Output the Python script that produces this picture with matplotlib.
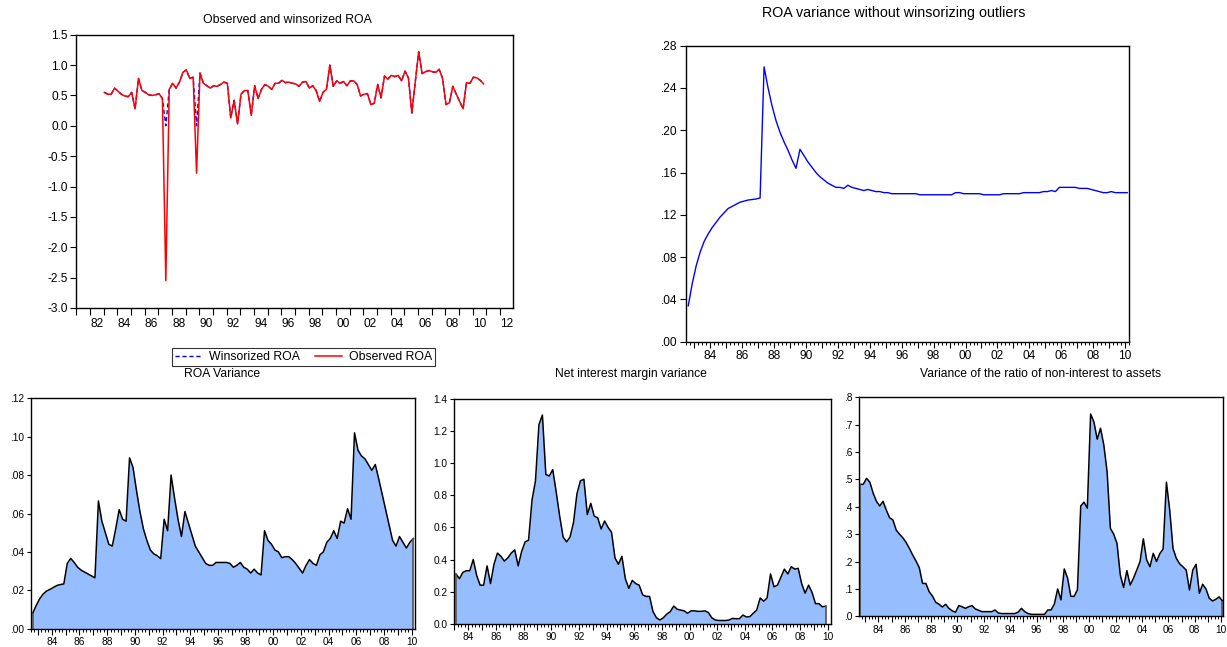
import numpy as np
import pandas as pd
import matplotlib
matplotlib.use("Agg")
import matplotlib.pyplot as plt
from matplotlib.lines import Line2D

plt.rcParams['font.family'] = ['Liberation Sans', 'DejaVu Sans']

# ---------------- data ----------------
roa_start = '1982Q4'
roa_observed = [0.55, 0.52, 0.52, 0.62, 0.57, 0.52, 0.49, 0.48, 0.55, 0.28,
                0.78, 0.58, 0.55, 0.51, 0.50, 0.51, 0.53, 0.45, -2.55, 0.60,
                0.70, 0.62, 0.72, 0.88, 0.92, 0.78, 0.80, -0.78, 0.87, 0.70,
                0.66, 0.62, 0.66, 0.65, 0.68, 0.72, 0.70, 0.13, 0.42, 0.03,
                0.52, 0.58, 0.58, 0.17, 0.66, 0.45, 0.60, 0.68, 0.65, 0.60,
                0.70, 0.70, 0.75, 0.71, 0.72, 0.70, 0.69, 0.65, 0.72, 0.73,
                0.62, 0.66, 0.58, 0.40, 0.55, 0.60, 1.00, 0.65, 0.74, 0.70,
                0.73, 0.66, 0.74, 0.74, 0.68, 0.49, 0.52, 0.53, 0.35, 0.37,
                0.68, 0.46, 0.82, 0.77, 0.83, 0.81, 0.83, 0.74, 0.90, 0.79,
                0.21, 0.72, 1.22, 0.86, 0.89, 0.91, 0.89, 0.88, 0.93, 0.78,
                0.35, 0.38, 0.65, 0.52, 0.40, 0.28, 0.71, 0.70, 0.80, 0.79,
                0.75, 0.69]
roa_winsorized = list(roa_observed)
roa_winsorized[18] = 0.0
roa_winsorized[27] = 0.0

var_start = '1982Q4'
roa_var_raw = [0.034, 0.055, 0.072, 0.085, 0.095, 0.102, 0.108, 0.113, 0.118, 0.122,
               0.126, 0.128, 0.130, 0.132, 0.133, 0.134, 0.1345, 0.135, 0.136, 0.260,
               0.240, 0.223, 0.209, 0.198, 0.189, 0.181, 0.172, 0.164, 0.182, 0.176,
               0.170, 0.165, 0.160, 0.156, 0.153, 0.150, 0.148, 0.146, 0.146, 0.145,
               0.148, 0.146, 0.145, 0.144, 0.143, 0.144, 0.143, 0.142, 0.142, 0.141,
               0.141, 0.140, 0.140, 0.140, 0.140, 0.140, 0.140, 0.140, 0.139, 0.139,
               0.139, 0.139, 0.139, 0.139, 0.139, 0.139, 0.139, 0.141, 0.141, 0.140,
               0.140, 0.140, 0.140, 0.140, 0.139, 0.139, 0.139, 0.139, 0.139, 0.140,
               0.140, 0.140, 0.140, 0.140, 0.141, 0.141, 0.141, 0.141, 0.141, 0.142,
               0.142, 0.143, 0.142, 0.146, 0.146, 0.146, 0.146, 0.146, 0.145, 0.145,
               0.145, 0.144, 0.143, 0.142, 0.141, 0.141, 0.142, 0.141, 0.141, 0.141,
               0.141]

roa_var = [0.008, 0.012, 0.0155, 0.018, 0.0196, 0.0205, 0.0215, 0.0225, 0.023, 0.0233,
           0.034, 0.0366, 0.0345, 0.032, 0.0305, 0.0295, 0.0285, 0.0275, 0.0265, 0.0665,
           0.056, 0.050, 0.044, 0.043, 0.052, 0.062, 0.057, 0.056, 0.089, 0.084,
           0.072, 0.061, 0.052, 0.046, 0.041, 0.039, 0.038, 0.0365, 0.057, 0.051,
           0.080, 0.068, 0.057, 0.048, 0.061, 0.055, 0.049, 0.043, 0.040, 0.037,
           0.034, 0.033, 0.033, 0.0345, 0.0345, 0.0345, 0.0345, 0.034, 0.032, 0.033,
           0.0345, 0.032, 0.031, 0.029, 0.031, 0.029, 0.028, 0.051, 0.046, 0.044,
           0.041, 0.040, 0.037, 0.0375, 0.0375, 0.036, 0.034, 0.0315, 0.029, 0.033,
           0.036, 0.034, 0.033, 0.0385, 0.040, 0.045, 0.047, 0.051, 0.047, 0.056,
           0.055, 0.0625, 0.057, 0.102, 0.093, 0.090, 0.0885, 0.0855, 0.0825, 0.0855,
           0.078, 0.070, 0.062, 0.054, 0.046, 0.043, 0.048, 0.045, 0.042, 0.045,
           0.047]

nim_start = '1983Q2'
nim_var = [0.31, 0.28, 0.32, 0.33, 0.33, 0.40, 0.30, 0.24, 0.24, 0.36,
           0.25, 0.37, 0.44, 0.42, 0.39, 0.41, 0.44, 0.46, 0.36, 0.45,
           0.51, 0.52, 0.77, 0.89, 1.24, 1.30, 0.93, 0.92, 0.96, 0.82,
           0.67, 0.54, 0.51, 0.54, 0.63, 0.81, 0.89, 0.90, 0.68, 0.75,
           0.67, 0.66, 0.59, 0.64, 0.60, 0.57, 0.41, 0.37, 0.42, 0.28,
           0.22, 0.27, 0.25, 0.24, 0.18, 0.17, 0.17,
           0.075, 0.037, 0.023, 0.037, 0.06, 0.075, 0.11, 0.09, 0.085,
           0.08, 0.065, 0.08, 0.08, 0.077, 0.077, 0.08, 0.07, 0.037, 0.023,
           0.02, 0.02, 0.02, 0.023, 0.033, 0.031, 0.031, 0.054,
           0.042, 0.044, 0.065, 0.085, 0.16, 0.14, 0.16, 0.31, 0.23, 0.24,
           0.29, 0.34, 0.31, 0.355, 0.34, 0.345, 0.25, 0.19, 0.24, 0.195,
           0.125, 0.125, 0.105, 0.11]

nonint_start = '1982Q4'
nonint_var = [0.482, 0.482, 0.504, 0.49, 0.45, 0.42, 0.403, 0.42, 0.388, 0.36,
              0.352, 0.315, 0.30, 0.287, 0.27, 0.248, 0.224, 0.202, 0.178, 0.12,
              0.12, 0.09, 0.074, 0.051, 0.044, 0.034, 0.044, 0.029, 0.02, 0.015,
              0.039, 0.035, 0.029, 0.035, 0.039, 0.027, 0.022, 0.017, 0.017, 0.017,
              0.017, 0.023, 0.012, 0.01, 0.01, 0.01, 0.01, 0.01, 0.015, 0.029,
              0.017, 0.01, 0.007, 0.007, 0.007, 0.007,
              0.007, 0.023, 0.023, 0.045, 0.10, 0.06, 0.173, 0.14, 0.073, 0.073,
              0.097, 0.403, 0.417, 0.395, 0.739, 0.71, 0.647, 0.687, 0.626, 0.528,
              0.321, 0.30, 0.267, 0.151, 0.105, 0.167, 0.114, 0.139, 0.169, 0.20,
              0.283, 0.206, 0.181, 0.23, 0.20, 0.229, 0.246, 0.49, 0.388, 0.248,
              0.212, 0.192, 0.181, 0.169, 0.096, 0.169, 0.19, 0.084, 0.117, 0.10,
              0.066, 0.056, 0.062, 0.071, 0.056]

titles = ["Observed and winsorized ROA",
          "ROA variance without winsorizing outliers",
          "ROA Variance",
          "Net interest margin variance",
          "Variance of the ratio of non-interest to assets"]
legend_labels = ["Winsorized ROA", "Observed ROA"]


def qdates(start, n):
    p = pd.period_range(start, periods=n, freq='Q')
    return np.array(p.year + (p.quarter - 1) / 4.0, dtype=float)


# ---------------- layout ----------------
W, H = 1227, 647
fig = plt.figure(figsize=(W / 100, H / 100), dpi=100)


def add_ax(l, t, r, b):
    return fig.add_axes([l / W, 1 - b / H, (r - l) / W, (b - t) / H])


FILL = '#96BEFF'
years = np.arange(1975, 2016)


def style(ax, lw=0.9):
    for s in ax.spines.values():
        s.set_linewidth(lw)
        s.set_color('black')


def year_axis(ax, off, fs):
    major = years + off
    ax.set_xticks(major)
    ax.set_xticklabels([f"{y % 100:02d}" if y % 2 == 0 else "" for y in years])
    ax.set_xticks([y + off + q * 0.25 for y in years for q in (1, 2, 3)], minor=True)
    ax.tick_params(axis='x', which='major', direction='out', length=4, width=0.8,
                   labelsize=fs, pad=2)
    ax.tick_params(axis='x', which='minor', direction='out', length=2, width=0.7)


def yfmt(vals, fmt, strip):
    out = []
    for v in vals:
        s = format(v, fmt)
        if strip:
            s = s.replace('0.', '.', 1) if s.startswith('0.') else s
        out.append(s)
    return out


# ---- top-left ----
ax1 = add_ax(76.3, 34.7, 512.7, 308)
t1 = qdates(roa_start, len(roa_observed))
ax1.plot(t1, roa_winsorized, color='#0000ff', lw=1.0, ls=(0, (3, 2)))
ax1.plot(t1, roa_observed, color='#ff0000', lw=1.1)
ax1.set_ylim(-3.0, 1.5)
ax1.set_xlim(1980.70, 2012.63)
yt = np.arange(-3.0, 1.51, 0.5)
ax1.set_yticks(yt)
ax1.set_yticklabels([f"{v:.1f}" for v in yt])
ax1.set_xticks(years + 0.7)
ax1.set_xticklabels([])
ax1.set_xticks(years + 0.19, [f"{y % 100:02d}" if y % 2 == 0 else "" for y in years],
               minor=True)
ax1.tick_params(axis='x', which='major', direction='out', length=5, width=0.8)
ax1.tick_params(axis='x', which='minor', length=0, labelsize=8.6, pad=7)
ax1.tick_params(axis='y', direction='out', length=4, width=0.8, labelsize=8.6, pad=2)
ax1.set_xlim(1980.70, 2012.63)
style(ax1, 1.0)
fig.text(287 / W, 1 - 20 / H, titles[0], ha='center', va='center', fontsize=8.8)

handles = [Line2D([], [], color='#0000ff', lw=1.0, ls=(0, (3, 2))),
           Line2D([], [], color='#ff0000', lw=1.1)]
leg = fig.legend(handles, legend_labels, loc='center', bbox_to_anchor=(303.5 / W, 1 - 357 / H),
                 ncol=2, fontsize=8.8, frameon=True, fancybox=False, handlelength=2.2,
                 handletextpad=0.6, columnspacing=1.2, borderpad=0.25, borderaxespad=0)
leg.get_frame().set_edgecolor('black')
leg.get_frame().set_linewidth(0.8)

# ---- top-right ----
ax2 = add_ax(685.7, 45.7, 1129.3, 341.7)
t2 = qdates(var_start, len(roa_var_raw))
ax2.plot(t2, roa_var_raw, color='#0000ff', lw=1.0)
ax2.set_ylim(0, 0.28)
yt = np.arange(0, 0.2801, 0.04)
ax2.set_yticks(yt)
ax2.set_yticklabels(yfmt(yt, '.2f', True))
ax2.tick_params(axis='y', direction='out', length=4, width=0.8, labelsize=8.6, pad=2)
year_axis(ax2, 0.12, 8.6)
ax2.set_xlim(1982.59, 2010.38)
style(ax2, 1.0)
fig.text(894 / W, 1 - 13 / H, titles[1], ha='center', va='center', fontsize=10.3)


def area_panel(ax, t, v, ylim, step, fmt, strip, xlim, off):
    ax.fill_between(t, 0, v, color=FILL, lw=0)
    ax.plot(t, v, color='black', lw=1.1)
    ax.vlines([t[0], t[-1]], 0, [v[0], v[-1]], color='#555555', lw=1.2)
    ax.set_ylim(*ylim)
    yt = np.arange(ylim[0], ylim[1] + step / 2, step)
    ax.set_yticks(yt)
    ax.set_yticklabels(yfmt(yt, fmt, strip))
    ax.tick_params(axis='y', direction='out', length=3, width=0.8, labelsize=7.3, pad=2)
    year_axis(ax, off, 7.3)
    ax.set_xlim(*xlim)
    style(ax, 1.0)


ax3 = add_ax(31, 398.3, 415, 628.7)
area_panel(ax3, qdates(var_start, len(roa_var)), roa_var, (0, 0.12), 0.02, '.2f', True,
           (1982.63, 2010.37), 0.13)
fig.text(222 / W, 1 - 374 / H, titles[2], ha='center', va='center', fontsize=8.7)

ax4 = add_ax(454.3, 399, 830.7, 623.7)
area_panel(ax4, qdates(nim_start, len(nim_var)), nim_var, (0, 1.4), 0.2, '.1f', False,
           (1983.13, 2010.35), 0.14)
fig.text(631 / W, 1 - 374 / H, titles[3], ha='center', va='center', fontsize=8.7)

ax5 = add_ax(859.3, 397.3, 1222.7, 616.3)
area_panel(ax5, qdates(nonint_start, len(nonint_var)), nonint_var, (0, 0.8), 0.1, '.1f', True,
           (1982.70, 2010.27), 0.15)
fig.text(1041 / W, 1 - 374 / H, titles[4], ha='center', va='center', fontsize=8.7)

fig.savefig('out.png', dpi=100)
